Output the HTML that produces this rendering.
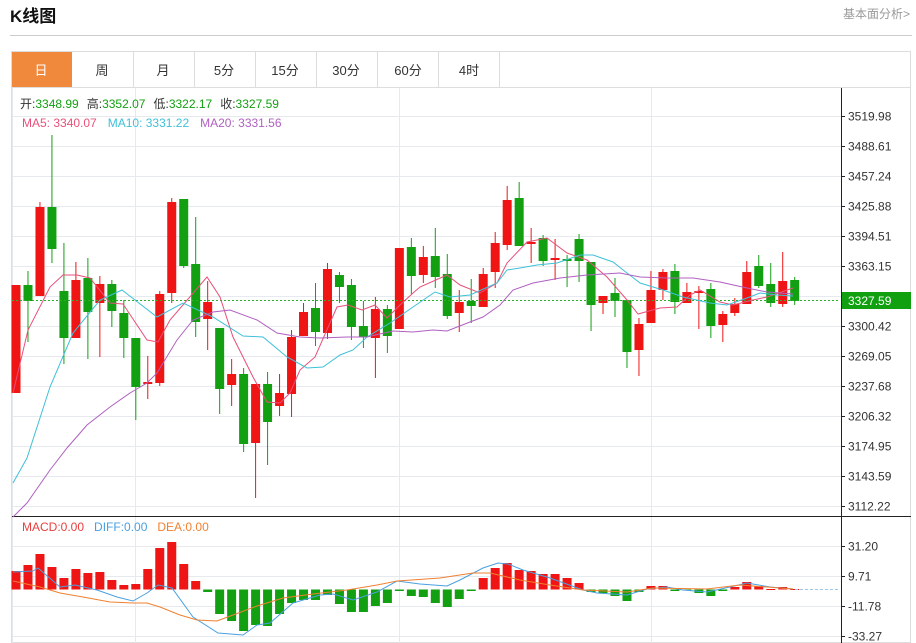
<!DOCTYPE html>
<html><head><meta charset="utf-8">
<style>
html,body{margin:0;padding:0;background:#fff;width:916px;height:643px;overflow:hidden;font-family:"Liberation Sans","Noto Sans CJK SC",sans-serif;}
svg{position:absolute;left:0;top:0}
</style></head><body>
<svg id="s" width="916" height="643" xmlns="http://www.w3.org/2000/svg" font-family="Liberation Sans, Noto Sans CJK SC, sans-serif">
<text x="10" y="22" font-size="17" font-weight="bold" fill="#111">K线图</text>
<text x="910" y="18" font-size="12" fill="#999" text-anchor="end">基本面分析&gt;</text>
<line x1="10" y1="35.5" x2="912" y2="35.5" stroke="#ccc"/>
<rect x="11.5" y="51.5" width="899" height="591" fill="none" stroke="#ddd"/>
<line x1="11" y1="87.5" x2="911" y2="87.5" stroke="#ddd"/>
<rect x="12" y="52" width="60" height="35" fill="#f0893c"/>
<g stroke="#ddd"><line x1="133.5" y1="52" x2="133.5" y2="87"/><line x1="194.5" y1="52" x2="194.5" y2="87"/><line x1="255.5" y1="52" x2="255.5" y2="87"/><line x1="316.5" y1="52" x2="316.5" y2="87"/><line x1="377.5" y1="52" x2="377.5" y2="87"/><line x1="438.5" y1="52" x2="438.5" y2="87"/><line x1="499.5" y1="52" x2="499.5" y2="87"/></g>
<g font-size="13" fill="#333" text-anchor="middle"><text x="41" y="75" fill="#fff">日</text><text x="102" y="75">周</text><text x="163" y="75">月</text><text x="224" y="75">5分</text><text x="285" y="75">15分</text><text x="346" y="75">30分</text><text x="408" y="75">60分</text><text x="469" y="75">4时</text></g>
<g id="grid" stroke="#e6e9ee" stroke-width="1"></g>
<line x1="841.5" y1="88" x2="841.5" y2="643" stroke="#222"/>
<line x1="12" y1="516.5" x2="911" y2="516.5" stroke="#222"/>
<g id="ticks" font-size="12" fill="#333"></g>
<text x="20" y="108" font-size="12" fill="#333">开:<tspan fill="#12a012">3348.99</tspan><tspan dx="8">高:</tspan><tspan fill="#12a012">3352.07</tspan><tspan dx="8">低:</tspan><tspan fill="#12a012">3322.17</tspan><tspan dx="8">收:</tspan><tspan fill="#12a012">3327.59</tspan></text>
<text x="22" y="127" font-size="12" fill="#e8507a">MA5: 3340.07<tspan fill="#3fc0d8" dx="11">MA10: 3331.22</tspan><tspan fill="#b060c0" dx="11">MA20: 3331.56</tspan></text>
<text x="22" y="531" font-size="12" fill="#e84040">MACD:0.00<tspan fill="#4aa0e0" dx="10">DIFF:0.00</tspan><tspan fill="#f08030" dx="10">DEA:0.00</tspan></text>
<g id="cand"></g>
<line x1="12" y1="300.5" x2="840" y2="300.5" stroke="#28b028" stroke-dasharray="2,2"/>
<rect x="842" y="292" width="69" height="17" fill="#10a010"/>
<text x="848" y="305" font-size="12" fill="#fff">3327.59</text>
<line x1="795" y1="589.5" x2="840" y2="589.5" stroke="#9cc8e8" stroke-dasharray="3,2"/>
<polyline fill="none" stroke="#e8507a" stroke-width="1" points="13,393 28,330 50,287 63,275 77,275 90,278 110,303 123,304 147,340 158,342 170,320 207,277 220,297 233,337 253,377 267,402 280,403 290,393 300,370 315,357 337,307 348,305 362,310 375,305 387,318 400,305 413,293 420,287 447,275 460,285 480,293 497,283 507,263 527,242 547,238 567,253 587,260 607,277 627,300 638,314 660,308 677,307 690,295 700,290 720,302 733,305 753,300 767,297 793,288"/>
<polyline fill="none" stroke="#3fc0d8" stroke-width="1" points="13,483 27,458 50,387 73,333 100,300 122,290 157,317 183,303 213,317 243,336 263,337 287,357 307,368 323,367 340,355 353,350 367,337 390,323 413,307 435,292 450,297 470,295 497,283 507,270 520,268 537,265 557,263 580,255 593,255 613,262 627,273 640,283 663,290 683,297 710,303 727,305 747,298 760,293 777,295 793,296"/>
<polyline fill="none" stroke="#b060c0" stroke-width="1" points="13,517 27,503 50,470 67,448 87,425 110,407 130,393 147,383 157,373 177,340 193,320 213,312 230,310 257,320 277,333 300,337 320,338 347,337 367,337 393,331 413,332 433,330 447,331 470,322 483,317 500,305 513,290 533,283 560,278 587,275 620,273 640,277 667,278 693,278 720,282 747,288 767,292 793,294"/>
<polyline fill="none" stroke="#4aa0e0" stroke-width="1" points="13,572 33,571 38,568 60,587 75,585 97,590 117,597 133,601 147,593 158,585 172,588 193,617 218,633 243,635 257,625 270,623 293,603 320,595 333,594 353,600 377,592 397,581 420,584 447,586 460,580 483,568 498,563 508,564 523,570 550,578 583,590 597,593 627,595 647,589 667,587 683,590 707,592 730,587 747,583 770,587 793,589"/>
<polyline fill="none" stroke="#f08030" stroke-width="1" points="13,581 40,587 60,593 83,597 110,602 133,603 147,603 160,607 180,615 197,620 217,621 233,615 257,606 283,598 313,594 347,590 377,585 397,581 440,578 473,573 490,573 520,580 550,585 583,590 627,592 653,588 707,589 740,585 793,589"/>
</svg>
<script>
var NS="http://www.w3.org/2000/svg",s=document.getElementById('s');
function el(p,t,a){var e=document.createElementNS(NS,t);for(var k in a)e.setAttribute(k,a[k]);p.appendChild(e);return e;}
var g=document.getElementById('grid'),tk=document.getElementById('ticks');
var labs=["3519.98","3488.61","3457.24","3425.88","3394.51","3363.15","3332.15","3300.42","3269.05","3237.68","3206.32","3174.95","3143.59","3112.22"];
for(var i=0;i<14;i++){var y=116+30*i+0.5;el(g,'line',{x1:12,y1:y,x2:841,y2:y});el(tk,'line',{x1:841,y1:y,x2:845,y2:y,stroke:'#222'});if(i!=6){var t=el(tk,'text',{x:848,y:y+4});t.textContent=labs[i];}}
var ml=["31.20","9.71","-11.78","-33.27"];
for(var i=0;i<4;i++){var y=546+30*i+0.5;el(g,'line',{x1:12,y1:y,x2:841,y2:y});el(tk,'line',{x1:841,y1:y,x2:845,y2:y,stroke:'#222'});var t=el(tk,'text',{x:848,y:y+4});t.textContent=ml[i];}
[12.5,135.5,399.5,651.5].forEach(function(x){el(g,'line',{x1:x,y1:88,x2:x,y2:643});});
var C=[['r',285,393],['g',285,301,271,342],['r',207,296,202],['g',207,249,135,263],['g',291,338,243,364],['r',280,338,262],['g',278,312,258,359],['r',284,303,276,357],['g',284,311,280,327],['g',313,338,300,358],['g',338,387,338,420],['r',382,384,356,399],['r',294,383,291,386],['r',202,293,198,303],['g',199,266,199,268],['g',264,322,217,337],['r',302,319,281,350],['g',328,389,328,414],['r',374,385,359,406],['g',374,444,368,452],['r',384,443,384,498],['g',384,422,372,465],['r',393,406,374,416],['r',337,394,330,417],['r',312,336,303],['g',308,332,283,346],['r',269,333,263,339],['g',275,287,272,303],['g',285,327,279,340],['g',326,337,301,348],['r',309,338,297,378],['g',309,336,305,353],['r',248,329],['g',247,276,238,294],['r',257,275,246,283],['g',256,277,228,288],['g',274,316,254,319],['r',302,313,290,332],['g',301,306,279,323],['r',274,307,268],['r',243,272,232,288],['r',200,245,186,250],['g',198,246,182,246],['r',242,244,228,263],['g',238,261,235,266],['r',258,260,239,280],['g',259,261,255,287],['g',239,261,234,282],['g',262,305,262,331],['r',296,303,296,314],['g',293,301,278,317],['g',300,352,300,368],['r',324,350,318,376],['r',290,323,271],['r',272,290,269,300],['g',271,302,264,314],['r',292,303,283],['r',291,293,286,329],['g',289,326,283,338],['r',314,325,311,342],['r',304,313,298,316],['r',272,304,261],['g',266,286,255,288],['g',284,303,263,307],['r',281,304,252,307],['g',280,301,277,305]];
var M=[571,565,554,567,578,569,573,572,580,585,584,569,548,542,564,581,592,614,621,631,625,626,614,603,600,600,595,604,612,612,606,603,591,596,597,603,607,599,591,578,568,563,570,571,574,574,578,583,592,593,596,601,592,586,586,591,590,593,596,591,587,582,586,589,587,589];
var cg=document.getElementById('cand');
for(var i=0;i<C.length;i++){var c=C[i],x=16+i*11.98,col=c[0]=='r'?'#f01515':'#12a012';
var wt=c[3]!==undefined?c[3]:c[1],wb=c[4]!==undefined?c[4]:c[2];
el(cg,'line',{x1:x,y1:wt,x2:x,y2:wb,stroke:col,'stroke-width':1});
el(cg,'rect',{x:x-4.5,y:c[1],width:9,height:Math.max(1,c[2]-c[1]),fill:col});
var m=M[i],z=589.5,mc=m<z?'#f01515':'#12a012';
el(cg,'rect',{x:x-4.5,y:Math.min(m,z),width:9,height:Math.max(1,Math.abs(m-z)),fill:mc});}
</script>
</body></html>
